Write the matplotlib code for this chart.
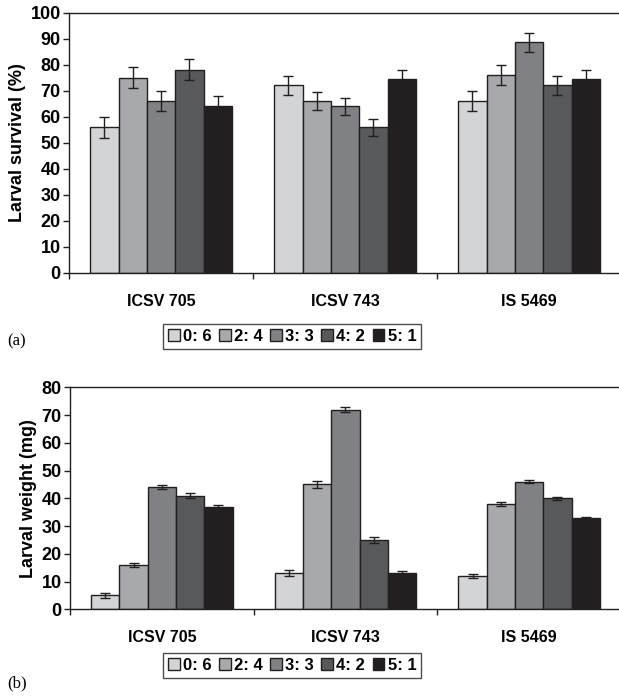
import matplotlib.pyplot as plt
import numpy as np

# data
varieties = ['ICSV 705', 'ICSV 743', 'IS 5469']
ratios = ['0: 6', '2: 4', '3: 3', '4: 2', '5: 1']
colors = ['#d3d4d6', '#a8a9ac', '#808184', '#58595b', '#231f20']

# (a) larval survival (%) per ratio, for each variety
survival = [[56, 72, 66],
            [75, 66, 76],
            [66, 64, 88.5],
            [78, 56, 72],
            [64, 74.5, 74.5]]
survival_err = [[4, 3.5, 3.7],
                [4, 3.5, 3.7],
                [4, 3.2, 3.6],
                [4, 3.3, 3.6],
                [4, 3.3, 3.6]]

# (b) larval weight (mg)
weight = [[5, 13, 12],
          [16, 45, 38],
          [44, 72, 46],
          [41, 25, 40],
          [37, 13, 33]]
weight_err = [[0.8, 1.0, 0.6],
              [0.8, 1.2, 0.6],
              [0.8, 1.0, 0.5],
              [0.8, 1.0, 0.5],
              [0.7, 0.8, 0.4]]

plt.rcParams['font.family'] = ['Liberation Sans', 'DejaVu Sans']
plt.rcParams['font.weight'] = 'bold'
plt.rcParams['axes.labelweight'] = 'bold'

fig = plt.figure(figsize=(6.19, 6.96), dpi=100)
ax1 = fig.add_axes([0.1115, 0.6078, 0.892, 0.3742])
ax2 = fig.add_axes([0.1131, 0.1246, 0.890, 0.3189])

x = np.arange(len(varieties))
w = 0.154


def draw(ax, vals, errs, ymax, ylabel, ytick_step):
    for i in range(len(ratios)):
        ax.bar(x + (i - 2) * w, vals[i], w, color=colors[i], edgecolor='#231f20',
               linewidth=1.0, label=ratios[i], zorder=2)
        ax.errorbar(x + (i - 2) * w, vals[i], yerr=errs[i], fmt='none',
                    ecolor='#231f20', elinewidth=1.0, capsize=3.5, capthick=1.0, zorder=3)
    ax.set_xlim(-0.5, 2.5)
    ax.set_ylim(0, ymax)
    ax.set_yticks(np.arange(0, ymax + 1, ytick_step))
    ax.set_yticklabels([str(v) for v in np.arange(0, ymax + 1, ytick_step)],
                       fontsize=13, fontweight='bold')
    ax.set_xticks(x)
    ax.set_xticklabels(varieties, fontsize=11.5, fontweight='bold')
    ax.tick_params(axis='x', which='major', length=0, pad=15)
    ax.set_xticks([-0.5, 0.5, 1.5, 2.5], minor=True)
    ax.tick_params(axis='x', which='minor', length=4, width=1, direction='out', color='#231f20')
    ax.tick_params(axis='y', length=4, width=1, pad=2, color='#231f20')
    ax.set_ylabel(ylabel, fontsize=13, fontweight='bold', labelpad=3)
    ax.spines['right'].set_visible(False)
    for s in ['left', 'bottom', 'top']:
        ax.spines[s].set_linewidth(1.0)
        ax.spines[s].set_color('#231f20')


draw(ax1, survival, survival_err, 100, 'Larval survival (%)', 10)
draw(ax2, weight, weight_err, 80, 'Larval weight (mg)', 10)

for ax, ly in [(ax1, 0.517), (ax2, 0.0445)]:
    handles, labels = ax.get_legend_handles_labels()
    leg = fig.legend(handles, labels, loc='center', bbox_to_anchor=(0.472, ly), ncol=5,
                     frameon=True, fancybox=False, handlelength=0.7, handleheight=0.7,
                     handletextpad=0.2, columnspacing=0.45, borderpad=0.3,
                     borderaxespad=0, prop={'size': 12, 'weight': 'bold'})
    leg.get_frame().set_edgecolor('#231f20')
    leg.get_frame().set_linewidth(1.0)

fig.text(0.012, 0.509, '(a)', fontsize=12, fontweight='normal',
         family=['Liberation Serif', 'DejaVu Serif'], va='center')
fig.text(0.012, 0.0187, '(b)', fontsize=12, fontweight='normal',
         family=['Liberation Serif', 'DejaVu Serif'], va='center')

fig.savefig('out.png', dpi=100)
